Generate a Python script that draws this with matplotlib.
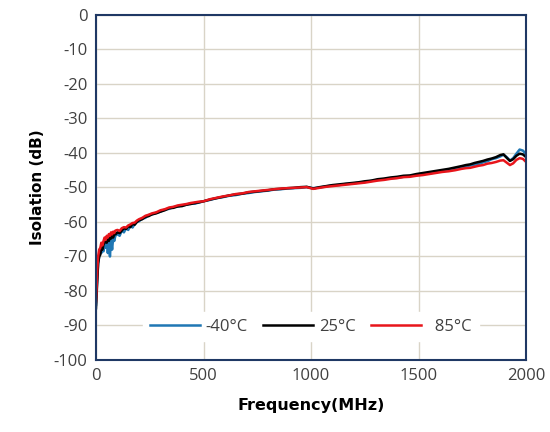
import matplotlib.pyplot as plt

plt.rcParams["axes.unicode_minus"] = False

# frequency points (MHz)
freq = [0, 3, 6, 10, 15, 20, 25, 30, 35, 40, 45, 50, 55, 60, 65, 70, 75, 80, 85,
        90, 100, 110, 120, 130, 140, 150, 160, 170, 180, 190, 200, 215, 230,
        245, 260, 280, 300, 320, 340, 360, 380, 400, 420, 440, 460, 480, 500,
        530, 560, 590, 620, 650, 680, 710, 740, 770, 800, 830, 860, 890, 920,
        950, 980, 1010, 1040, 1070, 1100, 1130, 1160, 1190, 1220, 1250, 1280,
        1310, 1340, 1370, 1400, 1430, 1460, 1490, 1520, 1550, 1580, 1610,
        1640, 1670, 1700, 1720, 1740, 1760, 1780, 1800, 1820, 1840, 1860,
        1880, 1895, 1910, 1925, 1940, 1955, 1970, 1985, 2000]

iso_m40 = [-84, -80, -76, -72, -70, -68, -69, -67, -68.5, -66, -67.5, -65.5, -69,
           -66, -70, -65, -68, -64.5, -65.5, -64, -63.5, -64, -62.5, -63, -61.8,
           -62.3, -61, -61.6, -60.6, -60, -59.8, -59, -58.8, -58, -57.8, -57.3,
           -57, -56.4, -56.2, -55.7, -55.5, -55.2, -55, -54.6, -54.7, -54.3,
           -54, -53.6, -53.1, -52.8, -52.4, -52.2, -51.8, -51.6, -51.3, -51.1,
           -50.9, -50.6, -50.5, -50.3, -50.2, -50.1, -49.9, -50.2, -50, -49.7,
           -49.4, -49.3, -49, -48.9, -48.6, -48.4, -48.1, -47.8, -47.6, -47.3,
           -47.2, -46.9, -46.7, -46.4, -46.1, -45.9, -45.6, -45.2, -45, -44.6,
           -44.2, -43.9, -43.6, -43.4, -43.2, -42.7, -42.4, -41.8, -41.5, -41,
           -40.5, -41.2, -42.2, -41.5, -40.2, -39, -39.3, -40.3]

iso_25 = [-85, -81, -77, -72, -70, -69.5, -67.5, -68, -66.5, -66, -65, -66, -64.5,
          -65.5, -64, -64.8, -63.8, -64.5, -63.2, -63.6, -63, -63.2, -62.5,
          -61.8, -62, -61.2, -61.5, -60.5, -60.8, -60, -59.5, -59.2, -58.5,
          -58.3, -57.8, -57.5, -57, -56.6, -56, -55.9, -55.5, -55.4, -55,
          -54.8, -54.5, -54.3, -54, -53.5, -53.1, -52.7, -52.3, -52, -51.8,
          -51.4, -51.2, -51, -50.8, -50.5, -50.4, -50.2, -50.1, -49.9, -49.8,
          -50.3, -49.9, -49.6, -49.3, -49.1, -48.9, -48.7, -48.5, -48.2, -48,
          -47.6, -47.4, -47.1, -46.9, -46.6, -46.5, -46.1, -45.8, -45.5, -45.2,
          -44.9, -44.6, -44.2, -43.8, -43.5, -43.3, -42.9, -42.6, -42.3, -41.9,
          -41.6, -41.2, -40.6, -40.4, -41.4, -42.3, -41.8, -40.8, -40.2,
          -40.4, -41.2]

iso_85 = [-83, -79, -74, -70, -68, -67.5, -66, -66.8, -65.5, -64.5, -65.2, -64,
          -64.5, -63.5, -64, -63, -63.6, -62.8, -63.2, -62.5, -62.3, -62.6,
          -61.8, -61.5, -61.6, -61, -60.7, -60.3, -60.2, -59.6, -59.2, -58.8,
          -58.2, -57.9, -57.5, -57.2, -56.6, -56.3, -55.8, -55.6, -55.2, -55,
          -54.8, -54.5, -54.3, -54.1, -54, -53.4, -53, -52.6, -52.3, -51.9,
          -51.7, -51.3, -51.1, -50.9, -50.7, -50.5, -50.3, -50.2, -50.1, -50,
          -49.9, -50.4, -50.1, -49.8, -49.6, -49.4, -49.2, -49, -48.8, -48.6,
          -48.3, -48, -47.8, -47.5, -47.3, -47, -46.9, -46.6, -46.4, -46.1,
          -45.8, -45.5, -45.3, -45, -44.6, -44.4, -44.3, -44, -43.7, -43.5,
          -43.1, -42.9, -42.6, -42.2, -42.1, -42.8, -43.5, -43, -42, -41.5,
          -41.7, -42.6]

fig = plt.figure(figsize=(5.5, 4.32), dpi=100)
ax = fig.add_axes([0.1745, 0.1667, 0.782, 0.7986])

ax.plot(freq, iso_m40, color="#1f77b4", lw=1.8, label="-40°C")
ax.plot(freq, iso_25, color="black", lw=1.8, label="25°C")
ax.plot(freq, iso_85, color="#e8151b", lw=1.8, label="  85°C")

ax.set_xlim(0, 2000)
ax.set_ylim(-100, 0)
ax.set_xticks([0, 500, 1000, 1500, 2000])
ax.set_yticks(range(-100, 1, 10))
ax.grid(True, color="#d9d4c7", lw=1)
ax.set_axisbelow(True)
for s in ax.spines.values():
    s.set_color("#1f3864")
    s.set_linewidth(1.5)
ax.tick_params(length=0, labelsize=12, pad=6, colors="#404040")
for lbl in ax.get_xticklabels() + ax.get_yticklabels():
    lbl.set_family("Open Sans")

ax.set_xlabel("Frequency(MHz)", fontsize=11.5, fontweight="bold", labelpad=10)
ax.set_ylabel("Isolation (dB)", fontsize=11, fontweight="bold", labelpad=6)

leg = ax.legend(loc="lower center", bbox_to_anchor=(0.5, 0.03), ncol=3,
                frameon=True, fancybox=False, framealpha=1, edgecolor="white",
                handlelength=3.0, columnspacing=0.9, handletextpad=0.35,
                labelcolor="#404040", prop={"family": "Open Sans", "size": 12})

fig.savefig("out.png", dpi=100)
